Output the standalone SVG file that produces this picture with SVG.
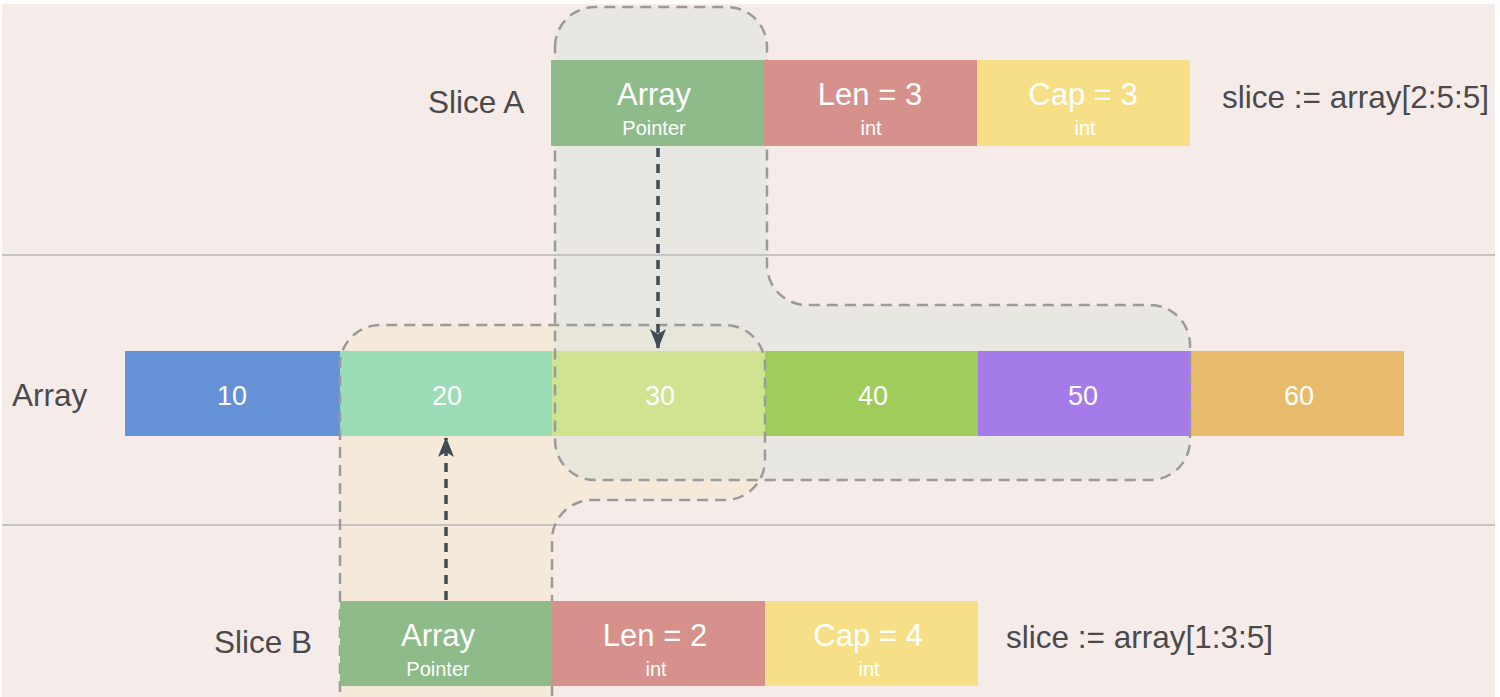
<svg xmlns="http://www.w3.org/2000/svg" width="1500" height="697" viewBox="0 0 1500 697">
<defs>
<style>
.lbl{font-family:"Liberation Sans",Arial,sans-serif;font-size:31.5px;fill:#4a4a4a}
.big{font-family:"Liberation Sans",Arial,sans-serif;font-size:31px;fill:#ffffff;text-anchor:middle}
.num{font-family:"Liberation Sans",Arial,sans-serif;font-size:27px;fill:#ffffff;text-anchor:middle}
.sub{font-family:"Liberation Sans",Arial,sans-serif;font-size:20px;fill:#ffffff;text-anchor:middle}
.outline{fill:none;stroke:#9a9a9a;stroke-width:2.5;stroke-dasharray:11 7}
.sep{stroke:#c6c3c2;stroke-width:2}
.conn{stroke:#3f4c55;stroke-width:3.5;stroke-dasharray:9 7;fill:none}
</style>
<marker id="ah" viewBox="0 0 20 18" refX="19" refY="9" markerWidth="20" markerHeight="18" markerUnits="userSpaceOnUse" orient="auto">
<path d="M0,1 L20,9 L0,17 L5,9 Z" fill="#3f4c55"/>
</marker>
</defs>
<rect x="0" y="0" width="1500" height="697" fill="#ffffff"/>
<rect x="2" y="4" width="1493" height="693" fill="#f5ecea"/>

<g id="regions">
<path id="regionB" d="M340 710 V365 A40 40 0 0 1 380 325 H725 A40 40 0 0 1 765 365 V460 A40 40 0 0 1 725 500 H592 A40 40 0 0 0 552 540 V710 Z" fill="#f5e9da"/>
<path id="regionA" d="M555 47 A40 40 0 0 1 595 7 H727 A40 40 0 0 1 767 47 V265 A40 40 0 0 0 807 305 H1150 A40 40 0 0 1 1190 345 V440 A40 40 0 0 1 1150 480 H595 A40 40 0 0 1 555 440 Z" fill="#dde3dc" fill-opacity="0.54"/>
</g>

<line class="sep" x1="2" y1="255" x2="1495" y2="255"/>
<line class="sep" x1="2" y1="525" x2="1495" y2="525"/>

<g id="array">
<text class="lbl" x="12" y="406">Array</text>
<rect x="125" y="351" width="215" height="85" fill="#6592d6"/>
<text class="num" x="232" y="405">10</text>
<rect x="340" y="351" width="212" height="85" fill="#9bddb6"/>
<text class="num" x="447" y="405">20</text>
<rect x="552" y="351" width="213" height="85" fill="#cfe391"/>
<text class="num" x="660" y="405">30</text>
<rect x="765" y="351" width="213" height="85" fill="#a0cc5c"/>
<text class="num" x="873" y="405">40</text>
<rect x="978" y="351" width="213" height="85" fill="#a57bea"/>
<text class="num" x="1083" y="405">50</text>
<rect x="1191" y="351" width="213" height="85" fill="#e8bb6c"/>
<text class="num" x="1299" y="405">60</text>
</g>

<g id="outlines">
<path class="outline" d="M340 710 V365 A40 40 0 0 1 380 325 H725 A40 40 0 0 1 765 365 V460 A40 40 0 0 1 725 500 H592 A40 40 0 0 0 552 540 V710"/>
<path class="outline" d="M555 47 A40 40 0 0 1 595 7 H727 A40 40 0 0 1 767 47 V265 A40 40 0 0 0 807 305 H1150 A40 40 0 0 1 1190 345 V440 A40 40 0 0 1 1150 480 H595 A40 40 0 0 1 555 440 Z"/>
</g>

<g id="sliceA">
<text class="lbl" x="428" y="113">Slice A</text>
<rect x="551" y="60" width="213" height="86" fill="#8fbb8a"/>
<text class="big" x="654" y="105">Array</text>
<text class="sub" x="654" y="135">Pointer</text>
<rect x="764" y="60" width="213" height="86" fill="#d6918d"/>
<text class="big" x="870" y="105">Len = 3</text>
<text class="sub" x="871" y="135">int</text>
<rect x="977" y="60" width="213" height="86" fill="#f7df88"/>
<text class="big" x="1083" y="105">Cap = 3</text>
<text class="sub" x="1085" y="135">int</text>
<text class="lbl" x="1222" y="108">slice := array[2:5:5]</text>
</g>

<g id="sliceB">
<text class="lbl" x="214" y="653">Slice B</text>
<rect x="340" y="601" width="212" height="85" fill="#8fbb8a"/>
<text class="big" x="438" y="646">Array</text>
<text class="sub" x="438" y="676">Pointer</text>
<rect x="552" y="601" width="213" height="85" fill="#d6918d"/>
<text class="big" x="655" y="646">Len = 2</text>
<text class="sub" x="656" y="676">int</text>
<rect x="765" y="601" width="213" height="85" fill="#f7df88"/>
<text class="big" x="868" y="646">Cap = 4</text>
<text class="sub" x="869" y="676">int</text>
<text class="lbl" x="1006" y="648">slice := array[1:3:5]</text>
</g>

<g id="connectors">
<path class="conn" d="M658 148 V348" marker-end="url(#ah)"/>
<path class="conn" d="M446 600 V438" marker-end="url(#ah)"/>
</g>
</svg>
